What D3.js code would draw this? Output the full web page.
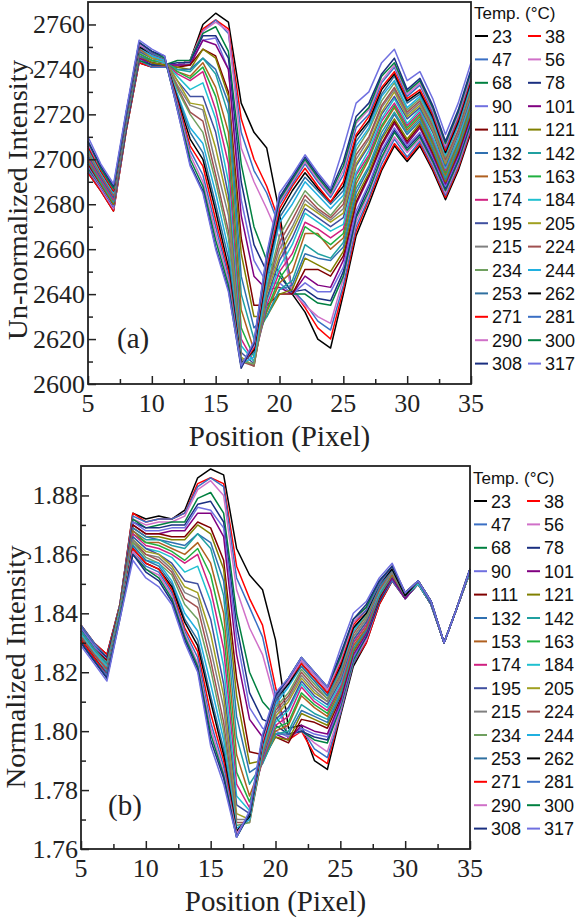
<!DOCTYPE html>
<html>
<head>
<meta charset="utf-8">
<script src="https://cdn.jsdelivr.net/npm/d3@7"></script>
<style>
body { margin: 0; background: #fff; }
</style>
</head>
<body>
<svg id="chart" width="577" height="918"></svg>
<script>
var positions = [5,6,7,8,9,10,11,12,13,14,15,16,17,18,19,20,21,22,23,24,25,26,27,28,29,30,31,32,33,34,35];

var temps = [23,38,47,56,68,78,90,101,111,121,132,142,153,163,174,184,
             195,205,215,224,234,244,253,262,271,281,290,300,308,317];

var colors = ["#000000","#ff0000","#3a6fc4","#d070c8","#008040","#1a2f80","#7070e0","#800080",
              "#800000","#808000","#3070b0","#20a0a0","#b06020","#20b040","#d02080","#20c0d0",
              "#4050a0","#a0a020","#808080","#a05050","#70a060","#20b0e0","#3070a0","#000000",
              "#ff0000","#3a6fc4","#d070c8","#008040","#1a2f80","#7070e0"];

// un-normalized intensity, one row per temperature
var rawIntensity = [
[2694,2686,2677,2713,2743,2741,2741,2742,2744,2760,2765,2761,2725,2712,2705,2676,2640,2632,2620,2616,2640,2666,2680,2695,2706,2699,2706,2695,2682,2695,2712],
[2694,2686,2677,2713,2743,2741,2741,2742,2744,2758,2762,2758,2718,2700,2688,2672,2642,2634,2625,2620,2642,2668,2682,2696,2707,2700,2707,2696,2683,2696,2713],
[2695,2687,2678,2714,2744,2741,2741,2742,2744,2757,2762,2756,2712,2695,2685,2670,2642,2636,2628,2624,2644,2670,2683,2698,2709,2701,2708,2697,2684,2697,2714],
[2696,2687,2678,2714,2744,2742,2742,2742,2744,2757,2761,2757,2705,2690,2678,2665,2641,2635,2630,2627,2647,2672,2685,2700,2710,2703,2709,2698,2685,2698,2715],
[2696,2688,2679,2714,2744,2742,2742,2744,2744,2756,2759,2748,2698,2670,2655,2650,2640,2640,2636,2635,2648,2674,2686,2701,2712,2704,2710,2699,2686,2699,2716],
[2697,2688,2679,2714,2745,2742,2742,2743,2743,2755,2755,2745,2690,2662,2650,2648,2641,2642,2638,2637,2650,2675,2688,2703,2713,2705,2711,2700,2687,2700,2717],
[2697,2688,2679,2715,2745,2743,2742,2742,2742,2753,2754,2740,2682,2655,2645,2645,2640,2645,2641,2641,2652,2677,2689,2704,2714,2706,2712,2701,2688,2701,2718],
[2698,2689,2680,2715,2745,2743,2742,2742,2742,2753,2751,2740,2675,2648,2642,2643,2640,2648,2644,2643,2655,2680,2692,2706,2716,2707,2714,2702,2689,2702,2719],
[2698,2689,2680,2715,2746,2743,2742,2741,2742,2749,2746,2730,2665,2635,2635,2640,2640,2651,2651,2648,2657,2681,2693,2707,2717,2708,2715,2703,2690,2703,2720],
[2699,2689,2680,2716,2746,2743,2742,2741,2740,2749,2745,2728,2658,2630,2630,2640,2642,2656,2653,2650,2659,2683,2694,2709,2718,2709,2716,2704,2690,2704,2721],
[2699,2690,2681,2716,2746,2744,2743,2740,2740,2745,2740,2725,2648,2625,2630,2642,2644,2658,2656,2655,2661,2685,2696,2710,2720,2711,2717,2705,2691,2705,2722],
[2700,2690,2681,2716,2747,2744,2743,2740,2739,2745,2738,2720,2640,2620,2630,2642,2646,2662,2658,2656,2663,2687,2697,2712,2721,2712,2718,2706,2692,2706,2723],
[2700,2691,2682,2717,2747,2744,2743,2739,2737,2743,2732,2712,2633,2615,2632,2645,2650,2667,2667,2660,2665,2689,2700,2714,2723,2713,2719,2707,2693,2707,2724],
[2701,2691,2682,2717,2747,2744,2743,2739,2736,2741,2728,2705,2625,2612,2633,2647,2655,2670,2666,2662,2667,2691,2701,2715,2724,2714,2720,2708,2694,2708,2725],
[2701,2691,2682,2717,2748,2745,2743,2738,2735,2739,2722,2698,2620,2610,2635,2650,2658,2672,2669,2665,2669,2693,2702,2717,2725,2715,2721,2709,2695,2709,2726],
[2702,2692,2683,2717,2748,2745,2743,2737,2731,2734,2718,2690,2617,2610,2637,2652,2662,2676,2672,2668,2671,2694,2704,2718,2727,2716,2722,2710,2696,2709,2727],
[2702,2692,2683,2718,2748,2745,2744,2735,2728,2728,2712,2684,2614,2609,2638,2655,2665,2678,2674,2670,2674,2697,2706,2720,2728,2718,2723,2712,2697,2711,2728],
[2703,2693,2684,2718,2749,2745,2744,2735,2725,2724,2705,2680,2612,2608,2640,2657,2668,2680,2676,2672,2676,2698,2707,2721,2730,2719,2724,2713,2698,2712,2729],
[2703,2693,2684,2718,2749,2746,2744,2733,2724,2722,2698,2675,2611,2608,2641,2660,2670,2682,2677,2673,2678,2700,2709,2723,2731,2720,2725,2714,2699,2712,2730],
[2704,2693,2684,2718,2749,2746,2744,2732,2721,2717,2693,2668,2610,2608,2642,2663,2673,2684,2678,2674,2680,2702,2710,2724,2732,2721,2726,2715,2700,2713,2731],
[2704,2694,2685,2719,2750,2746,2744,2731,2720,2712,2690,2665,2610,2609,2643,2666,2676,2686,2680,2675,2682,2704,2713,2726,2734,2722,2727,2716,2701,2715,2732],
[2705,2694,2685,2719,2750,2746,2744,2729,2714,2707,2685,2660,2609,2612,2645,2672,2680,2690,2684,2678,2684,2706,2714,2728,2735,2723,2728,2717,2702,2715,2733],
[2705,2695,2686,2719,2750,2747,2745,2728,2712,2703,2680,2656,2609,2614,2648,2674,2683,2692,2686,2680,2686,2708,2716,2729,2737,2725,2729,2718,2703,2716,2734],
[2706,2695,2686,2720,2750,2747,2745,2727,2709,2700,2677,2652,2609,2615,2650,2676,2686,2694,2687,2681,2688,2710,2717,2731,2738,2726,2730,2719,2703,2717,2735],
[2706,2695,2686,2720,2751,2747,2745,2726,2706,2697,2673,2650,2608,2616,2652,2678,2688,2696,2688,2681,2690,2711,2719,2732,2739,2727,2731,2720,2704,2718,2736],
[2707,2696,2687,2720,2751,2747,2745,2725,2704,2693,2670,2648,2608,2617,2654,2680,2689,2698,2690,2683,2693,2714,2720,2734,2741,2728,2733,2721,2705,2719,2737],
[2707,2696,2687,2721,2751,2748,2745,2724,2702,2690,2667,2646,2608,2617,2655,2681,2690,2699,2691,2684,2695,2716,2722,2735,2742,2729,2734,2722,2706,2720,2738],
[2708,2696,2687,2721,2752,2748,2745,2723,2700,2688,2664,2644,2608,2618,2656,2682,2691,2700,2692,2685,2697,2717,2723,2737,2743,2730,2735,2723,2707,2721,2739],
[2708,2697,2688,2721,2752,2748,2746,2722,2698,2686,2661,2642,2607,2618,2657,2683,2692,2701,2693,2686,2699,2719,2725,2738,2745,2731,2736,2724,2708,2722,2740],
[2710,2698,2689,2722,2753,2749,2746,2722,2697,2685,2660,2641,2608,2619,2658,2685,2693,2702,2694,2687,2705,2725,2730,2743,2749,2735,2739,2727,2711,2725,2743]
];

// normalized intensity, one row per temperature
var normIntensity = [
[1.836,1.830,1.826,1.843,1.874,1.872,1.873,1.872,1.875,1.886,1.889,1.887,1.862,1.853,1.848,1.831,1.801,1.802,1.790,1.787,1.805,1.822,1.830,1.843,1.851,1.845,1.850,1.843,1.830,1.842,1.854],
[1.836,1.830,1.826,1.843,1.874,1.871,1.872,1.872,1.874,1.884,1.886,1.884,1.856,1.845,1.836,1.815,1.797,1.800,1.792,1.789,1.806,1.823,1.830,1.843,1.851,1.845,1.850,1.843,1.830,1.842,1.854],
[1.836,1.830,1.825,1.843,1.873,1.871,1.872,1.872,1.874,1.883,1.886,1.883,1.852,1.842,1.832,1.812,1.798,1.801,1.794,1.791,1.806,1.823,1.831,1.844,1.851,1.845,1.850,1.843,1.830,1.842,1.854],
[1.835,1.829,1.825,1.842,1.872,1.870,1.871,1.871,1.873,1.882,1.885,1.880,1.848,1.835,1.826,1.810,1.798,1.800,1.796,1.793,1.807,1.824,1.831,1.844,1.852,1.845,1.850,1.843,1.830,1.842,1.854],
[1.835,1.829,1.825,1.842,1.872,1.869,1.870,1.871,1.871,1.879,1.881,1.874,1.840,1.820,1.810,1.805,1.799,1.800,1.797,1.796,1.808,1.824,1.832,1.844,1.852,1.845,1.850,1.843,1.830,1.842,1.854],
[1.835,1.829,1.825,1.842,1.871,1.869,1.869,1.870,1.870,1.877,1.878,1.871,1.836,1.813,1.804,1.802,1.799,1.800,1.798,1.797,1.809,1.825,1.832,1.844,1.852,1.845,1.850,1.843,1.830,1.842,1.854],
[1.835,1.829,1.824,1.842,1.871,1.868,1.868,1.869,1.869,1.876,1.875,1.869,1.832,1.808,1.801,1.800,1.798,1.801,1.799,1.798,1.809,1.825,1.833,1.845,1.852,1.845,1.850,1.843,1.830,1.842,1.854],
[1.834,1.828,1.824,1.842,1.870,1.867,1.867,1.868,1.868,1.874,1.874,1.866,1.826,1.804,1.798,1.799,1.797,1.802,1.800,1.799,1.810,1.826,1.833,1.845,1.852,1.845,1.850,1.843,1.830,1.842,1.854],
[1.834,1.828,1.824,1.842,1.870,1.867,1.867,1.866,1.866,1.871,1.869,1.858,1.818,1.793,1.792,1.798,1.796,1.804,1.803,1.801,1.811,1.827,1.834,1.845,1.853,1.846,1.850,1.843,1.830,1.842,1.854],
[1.834,1.828,1.823,1.842,1.869,1.866,1.866,1.865,1.865,1.870,1.867,1.855,1.812,1.789,1.790,1.798,1.797,1.806,1.804,1.802,1.812,1.827,1.834,1.846,1.853,1.846,1.850,1.843,1.830,1.842,1.854],
[1.834,1.828,1.823,1.841,1.869,1.866,1.865,1.864,1.863,1.867,1.864,1.851,1.805,1.786,1.789,1.799,1.799,1.807,1.805,1.803,1.812,1.828,1.834,1.846,1.853,1.846,1.850,1.843,1.830,1.842,1.854],
[1.834,1.828,1.823,1.841,1.868,1.865,1.865,1.863,1.862,1.867,1.862,1.846,1.798,1.782,1.789,1.799,1.800,1.809,1.806,1.804,1.813,1.828,1.835,1.846,1.853,1.846,1.850,1.843,1.830,1.842,1.854],
[1.833,1.827,1.822,1.841,1.868,1.864,1.864,1.862,1.860,1.864,1.857,1.840,1.792,1.778,1.790,1.800,1.802,1.812,1.808,1.805,1.814,1.829,1.835,1.847,1.853,1.846,1.850,1.843,1.830,1.842,1.854],
[1.833,1.827,1.822,1.841,1.867,1.864,1.863,1.861,1.858,1.862,1.853,1.834,1.786,1.776,1.790,1.801,1.803,1.813,1.809,1.806,1.815,1.830,1.836,1.847,1.854,1.846,1.850,1.843,1.830,1.842,1.854],
[1.833,1.827,1.822,1.841,1.867,1.863,1.862,1.860,1.857,1.860,1.848,1.828,1.782,1.774,1.790,1.802,1.805,1.815,1.810,1.807,1.815,1.830,1.836,1.847,1.854,1.846,1.850,1.843,1.830,1.842,1.854],
[1.833,1.827,1.822,1.841,1.866,1.862,1.861,1.859,1.854,1.856,1.844,1.822,1.778,1.773,1.791,1.803,1.807,1.816,1.811,1.808,1.816,1.831,1.837,1.847,1.854,1.846,1.850,1.843,1.830,1.842,1.854],
[1.832,1.826,1.821,1.840,1.866,1.862,1.860,1.857,1.851,1.850,1.838,1.816,1.775,1.772,1.791,1.804,1.808,1.817,1.812,1.809,1.817,1.831,1.837,1.848,1.854,1.846,1.851,1.843,1.830,1.842,1.855],
[1.832,1.826,1.821,1.840,1.865,1.861,1.860,1.856,1.849,1.847,1.833,1.812,1.772,1.770,1.792,1.805,1.810,1.818,1.813,1.810,1.818,1.832,1.838,1.848,1.854,1.846,1.851,1.844,1.830,1.842,1.855],
[1.832,1.826,1.821,1.840,1.865,1.860,1.859,1.855,1.847,1.845,1.828,1.808,1.770,1.770,1.792,1.806,1.811,1.819,1.814,1.810,1.818,1.832,1.838,1.848,1.854,1.846,1.851,1.844,1.830,1.842,1.855],
[1.832,1.826,1.821,1.840,1.864,1.860,1.858,1.854,1.845,1.842,1.824,1.803,1.769,1.769,1.792,1.807,1.812,1.820,1.815,1.811,1.819,1.833,1.839,1.848,1.855,1.846,1.851,1.844,1.830,1.842,1.855],
[1.831,1.825,1.820,1.840,1.864,1.859,1.857,1.853,1.843,1.838,1.821,1.800,1.768,1.769,1.793,1.808,1.813,1.821,1.816,1.811,1.820,1.834,1.839,1.849,1.855,1.846,1.851,1.844,1.830,1.842,1.855],
[1.831,1.825,1.820,1.840,1.863,1.858,1.857,1.851,1.840,1.834,1.816,1.797,1.767,1.770,1.794,1.809,1.815,1.822,1.817,1.812,1.821,1.834,1.840,1.849,1.855,1.846,1.851,1.844,1.830,1.842,1.855],
[1.831,1.825,1.820,1.839,1.863,1.858,1.856,1.850,1.838,1.831,1.812,1.794,1.766,1.771,1.795,1.810,1.816,1.822,1.817,1.812,1.821,1.835,1.840,1.849,1.855,1.846,1.851,1.844,1.830,1.842,1.855],
[1.831,1.825,1.819,1.839,1.862,1.857,1.855,1.849,1.837,1.829,1.810,1.792,1.766,1.771,1.796,1.811,1.816,1.823,1.818,1.813,1.822,1.835,1.840,1.850,1.855,1.846,1.851,1.844,1.830,1.842,1.855],
[1.831,1.825,1.819,1.839,1.862,1.857,1.855,1.848,1.835,1.827,1.806,1.790,1.765,1.772,1.796,1.811,1.817,1.823,1.818,1.813,1.823,1.836,1.841,1.850,1.856,1.847,1.851,1.844,1.830,1.842,1.855],
[1.830,1.824,1.819,1.839,1.861,1.856,1.854,1.847,1.834,1.825,1.803,1.788,1.765,1.772,1.797,1.811,1.817,1.824,1.819,1.814,1.824,1.837,1.841,1.850,1.856,1.847,1.851,1.844,1.830,1.842,1.855],
[1.830,1.824,1.818,1.839,1.861,1.855,1.853,1.846,1.833,1.823,1.801,1.786,1.765,1.772,1.797,1.812,1.817,1.824,1.819,1.814,1.824,1.837,1.842,1.851,1.856,1.847,1.851,1.844,1.830,1.842,1.855],
[1.830,1.824,1.818,1.839,1.860,1.855,1.852,1.845,1.832,1.822,1.799,1.785,1.764,1.772,1.798,1.812,1.818,1.825,1.820,1.815,1.825,1.838,1.842,1.851,1.856,1.847,1.851,1.844,1.830,1.842,1.855],
[1.830,1.824,1.818,1.838,1.860,1.854,1.851,1.844,1.831,1.821,1.797,1.784,1.764,1.772,1.798,1.812,1.818,1.825,1.820,1.815,1.826,1.838,1.843,1.851,1.856,1.847,1.851,1.844,1.830,1.842,1.855],
[1.829,1.823,1.817,1.838,1.858,1.852,1.849,1.843,1.830,1.820,1.795,1.782,1.764,1.773,1.799,1.813,1.818,1.825,1.820,1.815,1.828,1.840,1.844,1.852,1.857,1.847,1.851,1.844,1.830,1.842,1.855]
];

var xTicks = [5,10,15,20,25,30,35];
var rawTicks = [2600,2620,2640,2660,2680,2700,2720,2740,2760];
var normTicks = [1.76,1.78,1.80,1.82,1.84,1.86,1.88];

var svg = d3.select("#chart");

function drawPanel(p) {
  var x = d3.scaleLinear().domain([5,35]).range([p.left, p.right]);
  var y = d3.scaleLinear().domain(p.ydomain).range([p.bottom, p.top]);
  var g = svg.append("g");

  var line = d3.line()
    .x(function(d, i) { return x(positions[i]); })
    .y(function(d) { return y(d); });

  g.selectAll("path.series")
    .data(p.data)
   .enter().append("path")
    .attr("class", "series")
    .attr("d", line)
    .attr("fill", "none")
    .attr("stroke", function(d, i) { return colors[i]; })
    .attr("stroke-width", 1.5)
    .attr("stroke-linejoin", "round");

  // inward ticks
  var xAxis = d3.axisTop(x).tickValues(xTicks).tickSize(8).tickFormat("");
  g.append("g").attr("transform", "translate(0," + p.bottom + ")").call(xAxis);
  var xMinor = d3.axisTop(x).tickValues([7.5,12.5,17.5,22.5,27.5,32.5]).tickSize(5).tickFormat("");
  g.append("g").attr("transform", "translate(0," + p.bottom + ")").call(xMinor);
  var yAxis = d3.axisRight(y).tickValues(p.yticks).tickSize(8).tickFormat("");
  g.append("g").attr("transform", "translate(" + p.left + ",0)").call(yAxis);
  var yMinor = d3.axisRight(y).tickValues(p.yminor).tickSize(5).tickFormat("");
  g.append("g").attr("transform", "translate(" + p.left + ",0)").call(yMinor);
  g.selectAll(".domain").remove();
  g.selectAll(".tick line").attr("stroke", "#222").attr("stroke-width", 1.5);

  g.append("rect")
    .attr("x", p.left).attr("y", p.top)
    .attr("width", p.right - p.left).attr("height", p.bottom - p.top)
    .attr("fill", "none").attr("stroke", "#222").attr("stroke-width", 1.8);

  // tick labels
  g.selectAll("text.xl").data(xTicks).enter().append("text")
    .attr("x", function(d) { return x(d); })
    .attr("y", p.bottom + 28)
    .attr("text-anchor", "middle")
    .style("font-family", "Liberation Serif").style("font-size", "26px").attr("fill", "#222")
    .text(function(d) { return d; });
  g.selectAll("text.yl").data(p.yticks).enter().append("text")
    .attr("x", p.left - 3)
    .attr("y", function(d) { return y(d) + 9; })
    .attr("text-anchor", "end")
    .style("font-family", "Liberation Serif").style("font-size", "26px").attr("fill", "#222")
    .text(function(d) { return p.fmt(d); });

  g.append("text")
    .attr("x", (p.left + p.right) / 2).attr("y", p.bottom + 62)
    .attr("text-anchor", "middle")
    .style("font-family", "Liberation Serif").style("font-size", "29px").attr("fill", "#222")
    .text("Position (Pixel)");
  g.append("text")
    .attr("transform", "translate(" + p.ytitleX + "," + p.ytitleY + ") rotate(-90)")
    .attr("text-anchor", "middle")
    .attr("textLength", p.ytitleLen).attr("lengthAdjust", "spacingAndGlyphs")
    .style("font-family", "Liberation Serif").style("font-size", "28px").attr("fill", "#222")
    .text(p.ytitle);
  g.append("text")
    .attr("x", p.tagX).attr("y", p.tagY)
    .style("font-family", "Liberation Serif").style("font-size", "29px").attr("fill", "#222")
    .text(p.tag);

  // legend
  var lg = g.append("g");
  lg.append("text")
    .attr("x", p.right + 3).attr("y", p.legTop - 17)
    .style("font-family", "Liberation Sans").style("font-size", "17px").attr("fill", "#111")
    .text("Temp. (°C)");
  var items = lg.selectAll("g.item").data(temps).enter().append("g")
    .attr("transform", function(d, i) {
      return "translate(" + (p.right + 4 + (i % 2) * 53) + "," + (p.legTop + Math.floor(i / 2) * p.legStep) + ")";
    });
  items.append("line")
    .attr("x1", 0).attr("x2", 13).attr("y1", 0).attr("y2", 0)
    .attr("stroke", function(d, i) { return colors[i]; }).attr("stroke-width", 2);
  items.append("text")
    .attr("x", 17).attr("y", 6.5)
    .style("font-family", "Liberation Sans").style("font-size", "18px").attr("fill", "#111")
    .text(function(d) { return d; });
}

drawPanel({
  data: rawIntensity, left: 88, right: 471, top: 2, bottom: 384,
  ydomain: [2600, 2770], yticks: rawTicks,
  yminor: [2610,2630,2650,2670,2690,2710,2730,2750],
  fmt: function(d) { return d; },
  ytitle: "Un-normalized Intensity", ytitleX: 27, ytitleY: 200, ytitleLen: 280,
  tag: "(a)", tagX: 117, tagY: 348,
  legTop: 36, legStep: 23.4
});

drawPanel({
  data: normIntensity, left: 81, right: 470, top: 466, bottom: 849,
  ydomain: [1.76, 1.89], yticks: normTicks,
  yminor: [1.77,1.79,1.81,1.83,1.85,1.87],
  fmt: function(d) { return d.toFixed(2); },
  ytitle: "Normalized Intensity", ytitleX: 25, ytitleY: 667, ytitleLen: 243,
  tag: "(b)", tagX: 108, tagY: 815,
  legTop: 501, legStep: 23.4
});
</script>
</body>
</html>
